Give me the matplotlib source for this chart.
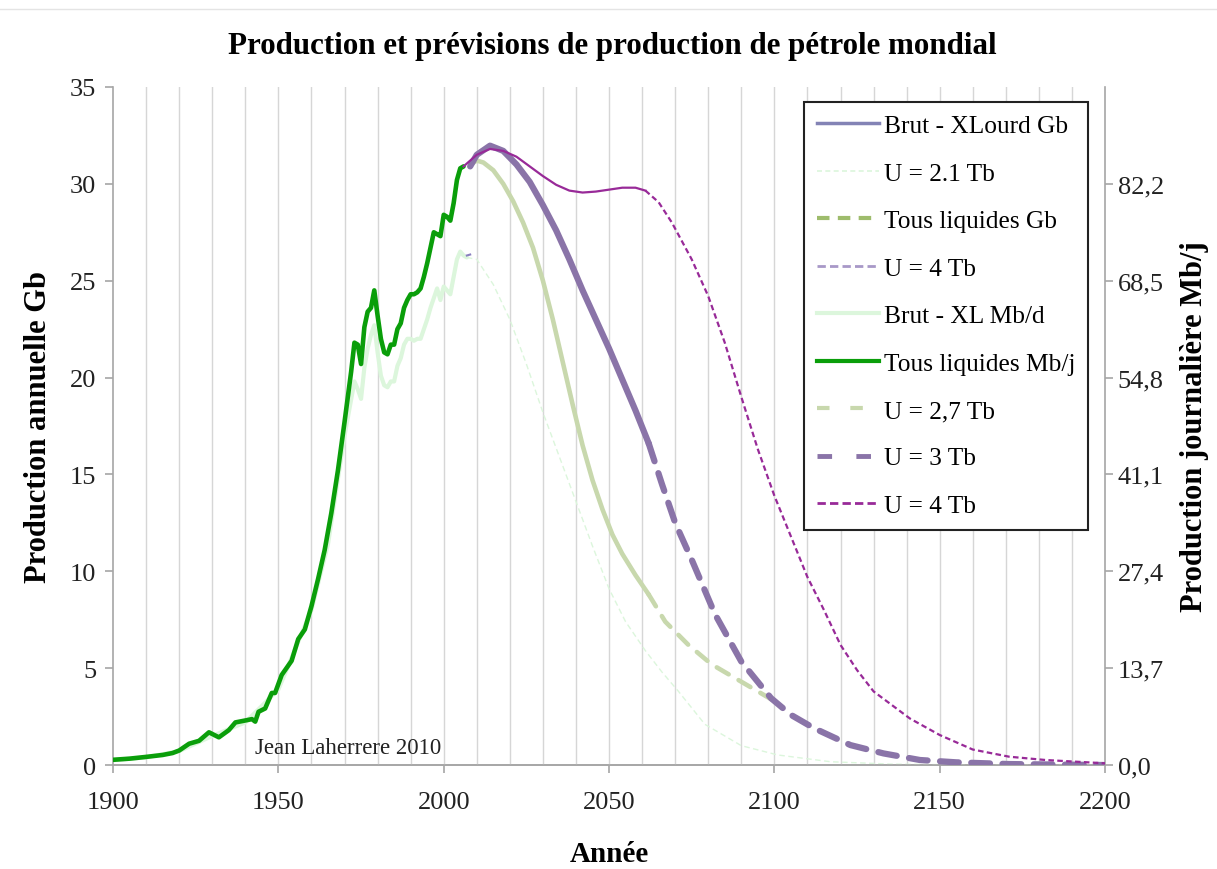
import matplotlib
matplotlib.use("Agg")
from matplotlib import pyplot as plt
from matplotlib.lines import Line2D

plt.rcParams['font.family'] = ['Liberation Serif', 'DejaVu Serif']

# Historical production, all liquids (Gb/yr)
hist_years = [1900, 1905, 1910, 1915, 1918, 1920, 1923, 1926, 1929, 1932, 1935, 1937, 1940,
              1942, 1943, 1944, 1946, 1948, 1949, 1951, 1954, 1956, 1958, 1960, 1962, 1964,
              1966, 1968, 1970, 1972, 1973, 1974, 1975, 1976, 1977, 1978, 1979, 1980, 1981,
              1982, 1983, 1984, 1985, 1986, 1987, 1988, 1989, 1990, 1991, 1992, 1993, 1994,
              1995, 1996, 1997, 1998, 1999, 2000, 2001, 2002, 2003, 2004, 2005, 2006]
hist_liquids = [0.27, 0.33, 0.42, 0.52, 0.62, 0.75, 1.1, 1.25, 1.69, 1.43, 1.8, 2.2, 2.3,
                2.37, 2.24, 2.75, 2.92, 3.72, 3.72, 4.65, 5.38, 6.5, 7.0, 8.2, 9.6, 11.1,
                13.0, 15.2, 17.7, 20.3, 21.8, 21.7, 20.7, 22.6, 23.4, 23.6, 24.5, 23.2, 22.0,
                21.3, 21.2, 21.7, 21.7, 22.5, 22.8, 23.6, 24.0, 24.3, 24.3, 24.4, 24.6, 25.2,
                25.9, 26.7, 27.5, 27.4, 27.3, 28.4, 28.3, 28.1, 29.0, 30.2, 30.8, 30.9]

# Historical crude minus extra heavy
crude_years = [1900, 1910, 1920, 1930, 1940, 1950, 1960, 1965, 1970, 1973, 1974, 1975, 1976,
               1977, 1978, 1979, 1980, 1981, 1982, 1983, 1984, 1985, 1986, 1987, 1988, 1989,
               1990, 1991, 1992, 1993, 1994, 1995, 1996, 1997, 1998, 1999, 2000, 2001, 2002,
               2003, 2004, 2005, 2006, 2007]
crude_hist = [0.25, 0.4, 0.72, 1.5, 2.2, 3.9, 8.0, 11.4, 17.0, 19.8, 19.4, 18.9, 20.5,
              21.5, 22.2, 22.7, 21.3, 20.1, 19.6, 19.5, 19.8, 19.8, 20.6, 21.0, 21.7, 22.0,
              22.0, 21.9, 22.0, 22.0, 22.5, 23.0, 23.6, 24.1, 24.6, 24.0, 24.7, 24.5, 24.3,
              25.2, 26.1, 26.5, 26.3, 26.2]

# Crude U = 4 Tb (only a short stub is visible)
crude_u4_years = [2007, 2008]
crude_u4_vals = [26.3, 26.35]

# Forecast U = 2.1 Tb
u21_years = [2007, 2010, 2015, 2020, 2025, 2030, 2035, 2040, 2045, 2050, 2055, 2061, 2066,
             2071, 2079, 2090, 2101, 2117, 2135, 2150, 2200]
u21_vals = [26.2, 26.1, 24.8, 23.0, 20.7, 18.2, 15.9, 13.6, 11.3, 9.1, 7.4, 5.9, 4.8,
            3.8, 2.1, 1.0, 0.52, 0.17, 0.05, 0.02, 0.0]

# Forecast U = 2,7 Tb (solid part then dashed part)
u27_years = [2008, 2010, 2012, 2015, 2018, 2021, 2024, 2027, 2030, 2033, 2036, 2039, 2042,
             2045, 2048, 2051, 2054, 2058, 2062]
u27_vals = [31.0, 31.2, 31.1, 30.7, 30.0, 29.1, 28.0, 26.7, 25.0, 23.0, 20.8, 18.6, 16.5,
            14.7, 13.2, 11.9, 10.9, 9.8, 8.8]
u27_tail_years = [2062, 2067, 2074, 2081, 2090, 2097, 2100]
u27_tail_vals = [8.8, 7.4, 6.2, 5.2, 4.3, 3.6, 3.3]

# Forecast U = 3 Tb
u3_years = [2008, 2010, 2014, 2018, 2022, 2026, 2030, 2034, 2038, 2042, 2046, 2050, 2054,
            2058, 2062]
u3_vals = [30.9, 31.5, 31.97, 31.7, 31.0, 30.1, 28.9, 27.6, 26.1, 24.5, 23.0, 21.5, 19.9,
           18.3, 16.6]
u3_tail_years = [2062, 2066, 2070, 2075, 2082, 2090, 2099, 2105, 2112, 2123, 2133, 2144,
                 2155, 2171, 2200]
u3_tail_vals = [16.6, 14.5, 12.5, 10.6, 7.8, 5.34, 3.45, 2.59, 1.9, 1.03, 0.6, 0.26,
                0.14, 0.05, 0.0]

# Forecast U = 4 Tb
u4_years = [2006, 2010, 2014, 2018, 2022, 2026, 2030, 2034, 2038, 2042, 2046, 2050, 2054,
            2058, 2061]
u4_vals = [30.9, 31.5, 31.8, 31.7, 31.4, 30.9, 30.4, 29.95, 29.65, 29.55, 29.6, 29.7, 29.8,
           29.8, 29.65]
u4_tail_years = [2061, 2065, 2069, 2075, 2080, 2085, 2090, 2095, 2100, 2105, 2110, 2115,
                 2120, 2125, 2130, 2141, 2150, 2160, 2171, 2182, 2200]
u4_tail_vals = [29.65, 29.05, 28.0, 26.1, 24.2, 21.8, 19.0, 16.3, 13.9, 11.8, 9.7, 8.0,
                6.2, 4.9, 3.8, 2.4, 1.55, 0.8, 0.43, 0.26, 0.09]

mbd_factor = 2.74
year_ticks = [1900, 1950, 2000, 2050, 2100, 2150, 2200]
gb_ticks = [0, 5, 10, 15, 20, 25, 30, 35]

GREEN = '#0a9e0a'
PALE = '#dcf6dc'
OLIVE = '#c8d8ad'
PURPLE = '#8a74a8'
MAGENTA = '#982a98'
LIGHT_PURPLE = '#8a80c0'
AXIS_GRAY = '#a6a6a6'

fig = plt.figure(figsize=(12.17, 8.70), dpi=100)
ax = fig.add_axes([0.0929, 0.1195, 0.8151, 0.7794])
ax2 = ax.twinx()
ax.set_zorder(ax2.get_zorder() + 1)
ax.patch.set_visible(False)

# Grid every 10 years
for yr in range(1910, 2200, 10):
    ax.axvline(yr, color='#d6d6d6', lw=1.0, zorder=0)

ax.plot(crude_years, crude_hist, color=PALE, lw=3, solid_capstyle='round', zorder=2)
ax.plot(crude_u4_years, crude_u4_vals, color=LIGHT_PURPLE, lw=1.5, zorder=2)
ax.plot(hist_years, hist_liquids, color=GREEN, lw=3.3, solid_capstyle='round', zorder=4)
ax.plot(u21_years, u21_vals, color=PALE, lw=1.0, ls=(0, (4, 2.5)), zorder=2)
ax.plot(u27_years, u27_vals, color=OLIVE, lw=3.3, solid_capstyle='round', zorder=3)
ax.plot(u27_tail_years, u27_tail_vals, color=OLIVE, lw=3.3, ls=(0, (3, 2.5)),
        dash_capstyle='round', zorder=3)
ax.plot(u3_years, u3_vals, color=PURPLE, lw=4.5, solid_capstyle='round', zorder=3)
ax.plot(u3_tail_years, u3_tail_vals, color=PURPLE, lw=4.5, ls=(0, (3, 2)),
        dash_capstyle='round', zorder=3)
ax.plot(u4_years, u4_vals, color=MAGENTA, lw=1.6, zorder=5)
ax.plot(u4_tail_years, u4_tail_vals, color=MAGENTA, lw=1.6, ls=(0, (2.5, 1.5)), zorder=5)

ax.set_xlim(1900, 2200)
ax.set_ylim(0, 35)
ax2.set_ylim(0, 35 * mbd_factor)

ax.set_xticks(year_ticks)
ax.set_yticks(gb_ticks)
ax2.set_yticks([v * mbd_factor for v in gb_ticks[:-1]])
ax2.set_yticklabels([f"{v * mbd_factor:.1f}".replace('.', ',') for v in gb_ticks[:-1]])

for a in (ax, ax2):
    a.spines['top'].set_visible(False)
    for s in ('left', 'right', 'bottom'):
        a.spines[s].set_color(AXIS_GRAY)
        a.spines[s].set_linewidth(1.2)
    a.tick_params(axis='both', colors=AXIS_GRAY, labelcolor='#222222', labelsize=19,
                  length=6, width=1.2, direction='out')
ax.tick_params(axis='x', pad=13)
ax.tick_params(axis='y', pad=6)
ax2.tick_params(axis='y', pad=3)
ax2.spines['left'].set_visible(False)
ax.spines['right'].set_visible(False)

ax.set_xlabel("Année", fontsize=21, fontweight='bold', labelpad=19)
ax.set_ylabel("Production annuelle Gb", fontsize=22, fontweight='bold', labelpad=12)
ax2.set_ylabel("Production journalière Mb/j", fontsize=22, fontweight='bold', labelpad=12)
fig.text(0.503, 0.947, "Production et prévisions de production de pétrole mondial",
         ha='center', va='center', fontsize=22.3, fontweight='bold')
ax.text(1943, 0.35, "Jean Laherrere 2010", fontsize=16.5, color='#222222', va='bottom')

fig.add_artist(Line2D([0, 1], [0.988, 0.988], color='#e4e4e4', lw=1))

handles = [
    Line2D([], [], color='#8383b5', lw=2.5),
    Line2D([], [], color=PALE, lw=1.2, ls=(0, (3, 2))),
    Line2D([], [], color='#9ebc6c', lw=3, ls=(0, (3, 2))),
    Line2D([], [], color='#a898c8', lw=2, ls=(0, (3, 1.5))),
    Line2D([], [], color=PALE, lw=3),
    Line2D([], [], color=GREEN, lw=3),
    Line2D([], [], color=OLIVE, lw=3, ls=(0, (3, 5))),
    Line2D([], [], color=PURPLE, lw=3.5, ls=(0, (3, 5))),
    Line2D([], [], color=MAGENTA, lw=2, ls=(0, (3, 1.5))),
]
labels = ["Brut - XLourd Gb", "U = 2.1 Tb", "Tous liquides Gb", "U = 4 Tb", "Brut - XL Mb/d",
          "Tous liquides Mb/j", "U = 2,7 Tb", "U = 3 Tb", "U = 4 Tb"]
leg = ax.legend(handles, labels, loc='upper right', bbox_to_anchor=(0.983, 0.978),
                fontsize=18.3, frameon=True, fancybox=False, framealpha=1,
                edgecolor='#222222', handlelength=2.45, handletextpad=0.2,
                labelspacing=0.97, borderpad=0.5, borderaxespad=0)
leg.get_frame().set_linewidth(1.5)
leg.set_zorder(10)

fig.savefig("out.png", dpi=100)
